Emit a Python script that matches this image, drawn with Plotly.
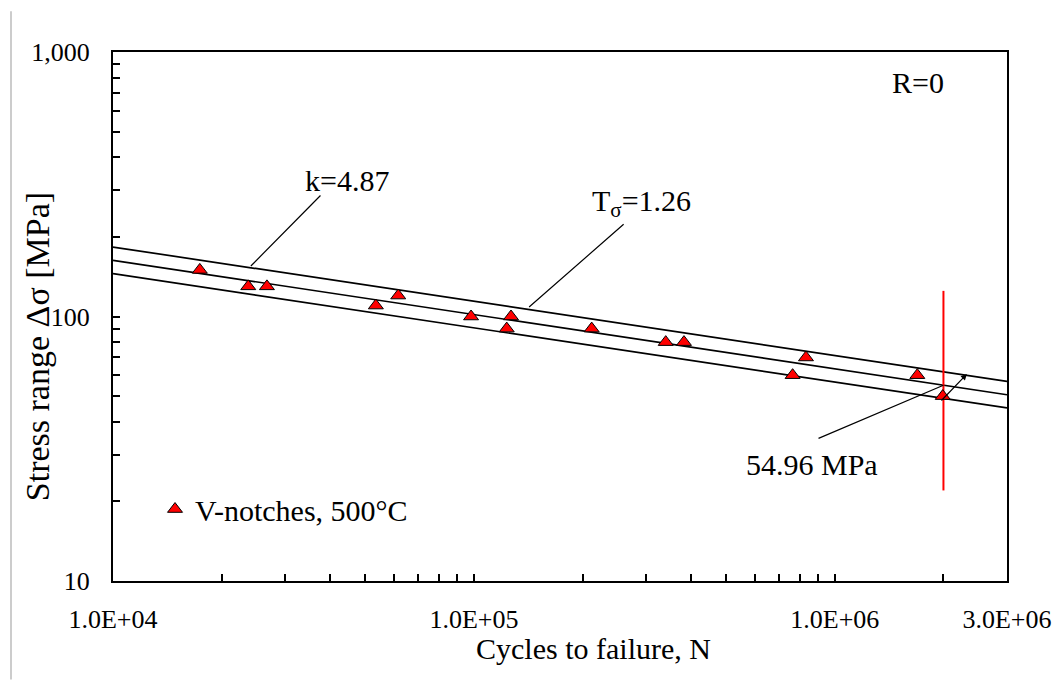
import math
import plotly.graph_objects as go

# ---- data ----
cycles = [17400, 23700, 26700, 53500, 61700, 98200, 126700, 123300,
          212000, 340000, 382000, 764000, 832000, 1693000, 1991000]
stress = [150, 130, 130, 110, 120, 100, 100, 90,
          90, 80, 80, 60, 70, 60, 50]

fit_n = [1e4, 3e6]
fit_mean = [163.1, 50.6]
fit_upper = [183.1, 56.8]
fit_lower = [145.3, 45.1]

ref_n = [2e6, 2e6]
ref_s = [22, 125]

x_tickvals = [1e4, 2e4, 3e4, 4e4, 5e4, 6e4, 7e4, 8e4, 9e4,
              1e5, 2e5, 3e5, 4e5, 5e5, 6e5, 7e5, 8e5, 9e5,
              1e6, 2e6, 3e6]
x_major = {1e4: "1.0E+04", 1e5: "1.0E+05", 1e6: "1.0E+06", 3e6: "3.0E+06"}
x_ticktext = [x_major.get(v, "") for v in x_tickvals]

y_tickvals = [10, 20, 30, 40, 50, 60, 70, 80, 90,
              100, 200, 300, 400, 500, 600, 700, 800, 900, 1000]
y_major = {10: "10", 100: "100", 1000: "1,000"}
y_ticktext = [y_major.get(v, "") for v in y_tickvals]

FONT = "Liberation Serif"
L = math.log10

fig = go.Figure()

for ys in (fit_upper, fit_mean, fit_lower):
    fig.add_trace(go.Scatter(x=fit_n, y=ys, mode="lines",
                             line=dict(color="black", width=1.7),
                             showlegend=False, hoverinfo="skip"))

fig.add_trace(go.Scatter(x=ref_n, y=ref_s, mode="lines",
                         line=dict(color="#ff0000", width=2),
                         showlegend=False, hoverinfo="skip"))

fig.add_trace(go.Scatter(x=cycles, y=stress, mode="markers",
                         name="V-notches, 500°C",
                         marker=dict(symbol="triangle-up", size=13,
                                     color="#ff0000",
                                     line=dict(color="black", width=1))))

annotations = []

def leader(x0, y0, x1, y1, head=0):
    annotations.append(dict(x=L(x1), y=L(y1), ax=L(x0), ay=L(y0),
                            xref="x", yref="y", axref="x", ayref="y",
                            text="", showarrow=True, arrowhead=head,
                            arrowsize=1, arrowwidth=1.2, arrowcolor="black",
                            standoff=0, startstandoff=0))

def label(x, y, text):
    annotations.append(dict(x=L(x), y=L(y), xref="x", yref="y", text=text,
                            xanchor="center", yanchor="middle",
                            showarrow=False, font=dict(family=FONT, size=30, color="black")))

label(10**4.648, 10**2.516, "k=4.87")
leader(10**4.579, 10**2.463, 10**4.382, 10**2.191)
label(10**5.463, 10**2.429, "T<sub>σ</sub>=1.26")
leader(10**5.419, 10**2.3535, 10**5.153, 10**2.036)
label(10**6.2305, 10**2.883, "R=0")
label(10**5.937, 10**1.4386, "54.96 MPa")
leader(10**5.9507, 10**1.537, 2e6, 54.96)
leader(10**6.2915, 10**1.6767, 10**6.366, 10**1.7826, head=2)

# axis titles
annotations.append(dict(x=0.537, y=-0.127, xref="paper", yref="paper",
                        xanchor="center", yanchor="middle",
                        text="Cycles to failure, N", showarrow=False,
                        font=dict(family=FONT, size=30, color="black")))
annotations.append(dict(x=-0.085, y=0.442, xref="paper", yref="paper",
                        xanchor="center", yanchor="middle",
                        text="Stress range Δσ [MPa]", showarrow=False, textangle=-90,
                        font=dict(family=FONT, size=34, color="black")))

fig.update_layout(
    width=1059, height=680,
    margin=dict(l=113, r=52, t=52, b=99, autoexpand=False),
    paper_bgcolor="white", plot_bgcolor="white",
    font=dict(family=FONT, size=26, color="black"),
    annotations=annotations,
    showlegend=True,
    legend=dict(x=0.047, y=0.136, xanchor="left", yanchor="middle",
                bgcolor="rgba(0,0,0,0)", font=dict(family=FONT, size=30, color="black")),
    shapes=[dict(type="line", xref="paper", yref="paper",
                 x0=-0.1141, x1=-0.1141, y0=-0.186, y1=1.077,
                 line=dict(color="#cccccc", width=2))],
)

fig.update_xaxes(type="log", range=[4, L(3e6)], tickvals=x_tickvals, ticktext=x_ticktext,
                 ticks="inside", ticklen=7, tickwidth=1.5, tickcolor="black",
                 showline=True, linecolor="black", linewidth=2, mirror=True,
                 showgrid=False, zeroline=False, ticklabelstandoff=14,
                 tickfont=dict(family=FONT, size=26, color="black"))
fig.update_yaxes(type="log", range=[1, 3], tickvals=y_tickvals, ticktext=y_ticktext,
                 ticks="inside", ticklen=7, tickwidth=1.5, tickcolor="black",
                 showline=True, linecolor="black", linewidth=2, mirror=True,
                 showgrid=False, zeroline=False, ticklabelstandoff=16,
                 tickfont=dict(family=FONT, size=26, color="black"))

fig.write_html("out.html")
